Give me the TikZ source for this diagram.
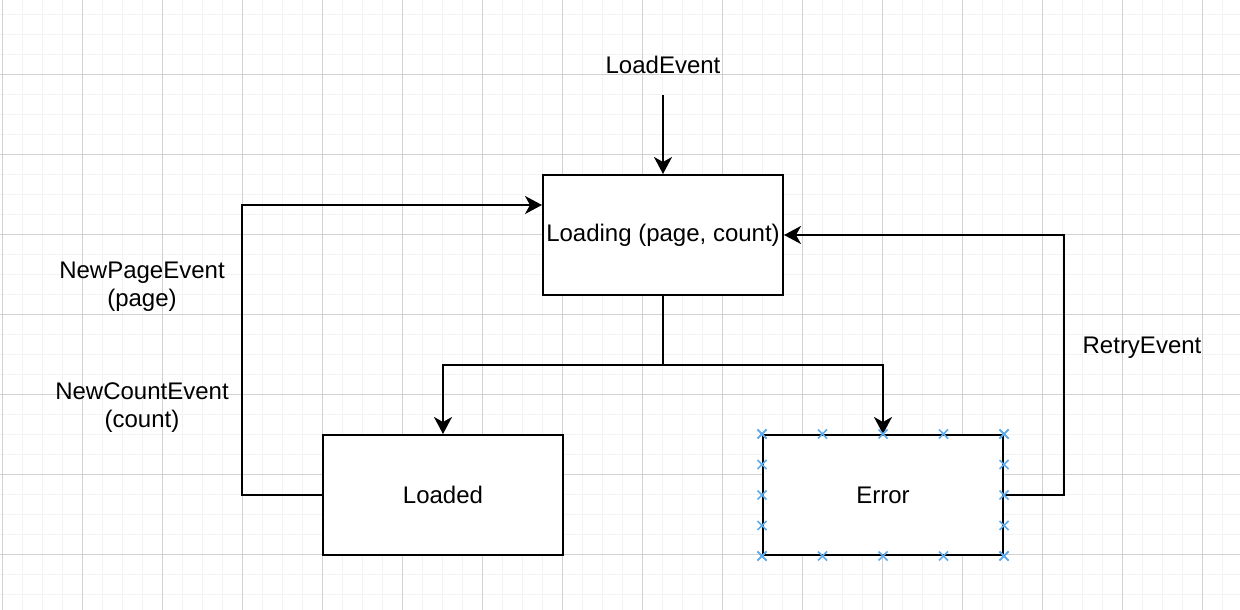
\documentclass[tikz,border=0pt]{standalone}
\usepackage{fontspec}
\setmainfont{Liberation Sans}
\usetikzlibrary{arrows.meta,calc}
\definecolor{minorgrid}{RGB}{243,243,243}
\definecolor{majorgrid}{RGB}{210,210,210}
\definecolor{handle}{RGB}{95,172,236}
\tikzset{x=1pt,y=-1pt,
  state/.style={draw,line width=2pt,minimum width=240pt,minimum height=120pt,inner sep=0pt},
  lbl/.style={align=center,inner sep=0pt},
  flow/.style={line width=2pt},
  arr/.style={flow,-{Stealth[length=17pt,width=18pt,inset=5pt]}},
  handlemark/.style={handle,line width=1.6pt}}

\begin{document}
\begin{tikzpicture}[font=\fontsize{24}{28}\selectfont]
              \useasboundingbox (0,0) rectangle (1240,610);
              \fill[white] (0,0) rectangle (1240,610);

              % grid
              \foreach \gx in {22.5,42.5,...,1242.5}
                \draw[minorgrid,line width=1.5pt] (\gx,0) -- (\gx,610);
              \foreach \gy in {14.3,34.3,...,614.3}
                \draw[minorgrid,line width=1.5pt] (0,\gy) -- (1240,\gy);
              \foreach \gx in {2.5,82.5,...,1242.5}
                \draw[majorgrid,line width=1pt] (\gx,0) -- (\gx,610);
              \foreach \gy in {74.3,154.3,...,614.3}
                \draw[majorgrid,line width=1pt] (0,\gy) -- (1240,\gy);

              \node[state,fill=white] (ld) at (663,235) {Loading (page, count)};
              \node[state,fill=white] (ok) at (443,495) {Loaded};
              \node[state,fill=white] (err) at (883,495) {Error};

              \node[lbl] (le) at (663,65) {LoadEvent};
              \node[lbl] (np) at (142,287) {NewPageEvent\\(page)};
              \node[lbl] (nc) at (142,408) {NewCountEvent\\(count)};
              \node[lbl] (re) at (1142,348) {RetryEvent};

              \coordinate (in) at (663,95);
              \coordinate (fork) at (663,365);

              \draw[arr] (in) -- (ld.north);
              \draw[flow] (ld.south) -- (fork);
              \draw[arr] (fork) -| (ok.north);
              \draw[arr] (fork) -| (err.north);
              \draw[arr] (ok.west) -- ++(-80,0) |- ([yshift=30pt]ld.west);
              \draw[arr] (err.east) -- ++(60,0) |- (ld.east);

              % connection handles
              \foreach \f in {0,0.25,0.5,0.75,1} {
                \coordinate (hn) at ($(err.north west)!\f!(err.north east)$);
                \coordinate (hs) at ($(err.south west)!\f!(err.south east)$);
                \coordinate (hw) at ($(err.north west)!\f!(err.south west)$);
                \coordinate (he) at ($(err.north east)!\f!(err.south east)$);
                \foreach \h in {hn,hs,hw,he}
                  \draw[handlemark] ([shift={(-4.5,-4.5)}]\h) -- ([shift={(4.5,4.5)}]\h)
                                    ([shift={(-4.5,4.5)}]\h) -- ([shift={(4.5,-4.5)}]\h);
              }
            \end{tikzpicture}
\end{document}
